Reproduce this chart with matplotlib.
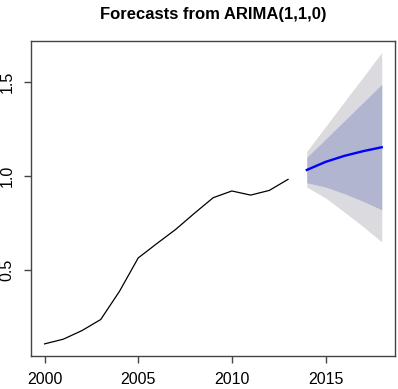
"""Forecast plot in the style of R's forecast::plot for an ARIMA(1,1,0) fit."""

import matplotlib
matplotlib.use("Agg")
import matplotlib.pyplot as plt

YEARS = [2000, 2001, 2002, 2003, 2004, 2005, 2006, 2007,
         2008, 2009, 2010, 2011, 2012, 2013]
VALUES = [0.104, 0.129, 0.175, 0.234, 0.384, 0.562, 0.639, 0.714,
          0.800, 0.883, 0.919, 0.897, 0.922, 0.981]

# forecast horizon with 80% / 95% intervals
FC_YEARS = [2014, 2015, 2016, 2017, 2018]
FC_MEAN = [1.031, 1.074, 1.106, 1.131, 1.152]
LO80 = [0.963, 0.940, 0.905, 0.864, 0.819]
HI80 = [1.098, 1.195, 1.292, 1.390, 1.487]
LO95 = [0.940, 0.882, 0.807, 0.730, 0.647]
HI95 = [1.130, 1.262, 1.394, 1.525, 1.657]

XTICKS = [2000, 2005, 2010, 2015]
YTICKS = [0.5, 1.0, 1.5]

plt.rcParams["font.family"] = ["Liberation Sans", "DejaVu Sans"]

fig = plt.figure(figsize=(3.98, 3.89), dpi=100)
ax = fig.add_axes([0.078, 0.086, 0.915, 0.809])

ax.fill_between(FC_YEARS, LO95, HI95, color="#dbdbdf", lw=0)
ax.fill_between(FC_YEARS, LO80, HI80, color="#b1b5cf", lw=0)
ax.plot(YEARS, VALUES, color="black", lw=0.9)
ax.plot(FC_YEARS, FC_MEAN, color="#0000ff", lw=1.7)

# R-style 4% padding around the data range
x0, x1 = min(YEARS), max(FC_YEARS)
y0, y1 = min(VALUES), max(HI95)
px, py = 0.04 * (x1 - x0), 0.04 * (y1 - y0)
ax.set_xlim(x0 - px, x1 + px)
ax.set_ylim(y0 - py, y1 + py)

ax.set_xticks(XTICKS)
ax.set_xticklabels([str(t) for t in XTICKS])
ax.set_yticks(YTICKS)
ax.set_yticklabels([f"{t:.1f}" for t in YTICKS], rotation=90, va="center")
ax.tick_params(direction="out", length=5, width=1.0, colors="#444444",
               labelcolor="black", labelsize=11.5, pad=7)
for s in ax.spines.values():
    s.set_color("#444444")
    s.set_linewidth(1.0)

fig.text(0.535, 0.963, "Forecasts from ARIMA(1,1,0)", ha="center", va="center",
         fontsize=12, fontweight="bold")

fig.savefig("out.png", dpi=100)
